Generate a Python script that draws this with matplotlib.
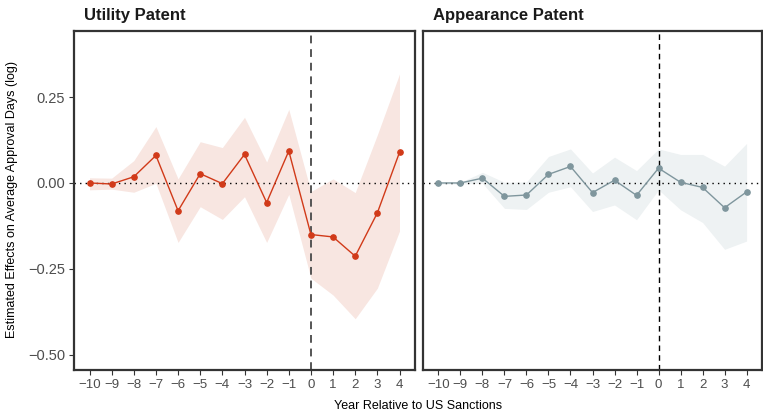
import matplotlib.pyplot as plt

plt.rcParams['font.family'] = ['Liberation Sans', 'DejaVu Sans']

years = list(range(-10, 5))

# event-study estimates, utility patents
utility_est = [0.000, -0.003, 0.018, 0.080, -0.081, 0.027, -0.002, 0.083,
               -0.057, 0.093, -0.150, -0.157, -0.213, -0.087, 0.089]
utility_hi = [0.015, 0.014, 0.065, 0.164, 0.012, 0.120, 0.103, 0.191,
              0.061, 0.214, -0.025, 0.012, -0.028, 0.140, 0.317]
utility_lo = [-0.020, -0.018, -0.027, -0.001, -0.173, -0.069, -0.106, -0.040,
              -0.173, -0.033, -0.277, -0.326, -0.395, -0.306, -0.140]

# event-study estimates, appearance (design) patents
appear_est = [0.000, 0.000, 0.014, -0.039, -0.035, 0.025, 0.048, -0.028,
              0.008, -0.036, 0.043, 0.002, -0.013, -0.072, -0.026]
appear_hi = [0.003, 0.002, 0.031, 0.002, 0.003, 0.077, 0.099, 0.029,
             0.075, 0.036, 0.099, 0.083, 0.083, 0.049, 0.115]
appear_lo = [-0.003, -0.003, -0.001, -0.074, -0.077, -0.027, -0.011, -0.083,
             -0.064, -0.107, -0.020, -0.078, -0.115, -0.193, -0.169]

W, H = 763, 413
fig = plt.figure(figsize=(W / 100, H / 100), dpi=100)

ax1 = fig.add_axes([74 / W, 1 - 370 / H, (415 - 74) / W, (370 - 31) / H])
ax2 = fig.add_axes([423 / W, 1 - 370 / H, (762 - 423) / W, (370 - 31) / H])

panels = [
    (ax1, "Utility Patent", utility_est, utility_lo, utility_hi,
     "#d13a19", "#f8e6e1", "#555555", 1.4),
    (ax2, "Appearance Patent", appear_est, appear_lo, appear_hi,
     "#7f969d", "#eef2f3", "black", 1.0),
]

for ax, title, est, lo, hi, col, fill, vcol, vlw in panels:
    ax.fill_between(years, lo, hi, color=fill, linewidth=0, zorder=1)
    ax.axhline(0, color="black", linestyle=(0, (1, 3)), linewidth=1, zorder=2)
    ax.axvline(0, color=vcol, linestyle=(0, (4, 3)), linewidth=vlw, zorder=2)
    ax.plot(years, est, color=col, linewidth=1, marker="o", markersize=3.8, zorder=3)

    ax.set_xlim(-10.7, 4.7)
    ax.set_ylim(-0.544, 0.442)
    ax.set_xticks(years)
    ax.set_xticklabels([str(y).replace("-", "\u2212") for y in years])
    ax.set_yticks([-0.5, -0.25, 0, 0.25])
    ax.set_yticklabels(["\u22120.50", "\u22120.25", "0.00", "0.25"])
    ax.tick_params(axis="x", labelsize=9.5, colors="#333333", labelcolor="#4d4d4d",
                   length=3.5, width=0.8, pad=3)
    ax.tick_params(axis="y", labelsize=10.5, colors="#333333", labelcolor="#4d4d4d",
                   length=3.5, width=0.8, pad=3)
    for sp in ax.spines.values():
        sp.set_color("#333333")
        sp.set_linewidth(1.6)
    ax.set_title(title, loc="left", fontsize=12, fontweight="bold",
                 color="#1a1a1a", pad=8, x=0.03)

ax2.tick_params(axis="y", left=False, labelleft=False)

fig.text(12 / W, 1 - 200 / H, "Estimated Effects on Average Approval Days (log)",
         rotation=90, ha="center", va="center", fontsize=9, color="black")
fig.text(418 / W, 1 - 406 / H, "Year Relative to US Sanctions",
         ha="center", va="center", fontsize=9, color="black")

fig.savefig("out.png", dpi=100)
